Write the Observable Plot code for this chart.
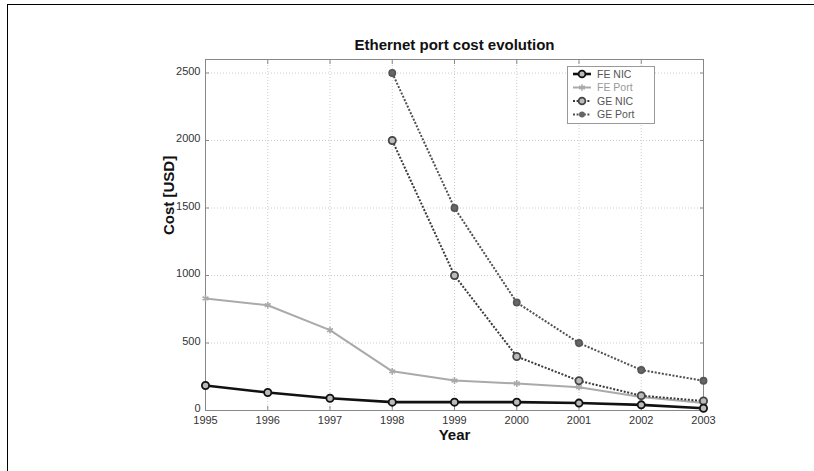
<!DOCTYPE html>
<html><head><meta charset="utf-8">
<script src="https://cdn.jsdelivr.net/npm/d3@7"></script>
<script src="https://cdn.jsdelivr.net/npm/@observablehq/plot@0.6"></script>
<style>
body{margin:0;background:#fff;}
#wrap{position:relative;width:814px;height:471px;overflow:hidden;font-family:"Liberation Sans",Arial,sans-serif;}
#border{position:absolute;left:7px;top:4px;width:900px;height:600px;border-top:1.5px solid #000;border-left:1.5px solid #000;}
#chart{position:absolute;left:0;top:0;}
#legend{position:absolute;left:567px;top:66px;}
</style></head>
<body>
<div id="wrap"><div id="border"></div><div id="chart"></div><div id="legend"></div></div>
<script>
const title = "Ethernet port cost evolution";
const xLabel = "Year";
const yLabel = "Cost [USD]";
const years = [1995, 1996, 1997, 1998, 1999, 2000, 2001, 2002, 2003];
const feNic = [185, 133, 91, 62, 62, 62, 55, 42, 17];
const fePort = [830, 780, 595, 290, 222, 200, 173, 100, 55];
const geYears = [1998, 1999, 2000, 2001, 2002, 2003];
const geNic = [2000, 1000, 400, 220, 110, 70];
const gePort = [2500, 1500, 800, 500, 300, 220];
const yTicks = [0, 500, 1000, 1500, 2000, 2500];
const seriesNames = ["FE NIC", "FE Port", "GE NIC", "GE Port"];

const feNicData = years.map((y, i) => ({year: y, v: feNic[i]}));
const fePortData = years.map((y, i) => ({year: y, v: fePort[i]}));
const geNicData = geYears.map((y, i) => ({year: y, v: geNic[i]}));
const gePortData = geYears.map((y, i) => ({year: y, v: gePort[i]}));

const styles = {
  "FE NIC": {stroke: "#111", width: 2.6, dash: null, marker: "circle-open", mcolor: "#111"},
  "FE Port": {stroke: "#aaa", width: 2, dash: null, marker: "asterisk", mcolor: "#aaa"},
  "GE NIC": {stroke: "#3a3a3a", width: 2, dash: "2,1.6", marker: "circle-open", mcolor: "#444"},
  "GE Port": {stroke: "#505050", width: 2, dash: "2,1.6", marker: "dot", mcolor: "#666"}
};

function seriesMarks(data, name) {
  const s = styles[name];
  const marks = [Plot.line(data, {x: "year", y: "v", stroke: s.stroke, strokeWidth: s.width, strokeDasharray: s.dash, strokeLinecap: "butt"})];
  if (s.marker === "circle-open") marks.push(Plot.dot(data, {x: "year", y: "v", r: 3.6, fill: "#bbb", stroke: s.mcolor, strokeWidth: 1.8}));
  else if (s.marker === "asterisk") marks.push(Plot.dot(data, {x: "year", y: "v", r: 3.2, symbol: "asterisk", stroke: s.mcolor, strokeWidth: 1.6}));
  else marks.push(Plot.dot(data, {x: "year", y: "v", r: 3.2, fill: s.mcolor, stroke: "#555"}));
  return marks;
}

const plot = Plot.plot({
  width: 814, height: 471,
  marginLeft: 205, marginRight: 111, marginTop: 59, marginBottom: 61,
  style: {fontFamily: "Liberation Sans, Arial, sans-serif", fontSize: "11px", color: "#333", background: "transparent"},
  x: {domain: [1995, 2003], ticks: years, tickFormat: d => String(d), label: null},
  y: {domain: [0, 2600], ticks: yTicks, tickFormat: d => String(d), label: null},
  marks: [
    Plot.gridX(years, {stroke: "#ccc", strokeOpacity: 1, strokeDasharray: "1,2"}),
    Plot.gridY(yTicks, {stroke: "#ccc", strokeOpacity: 1, strokeDasharray: "1,2"}),
    Plot.frame({stroke: "#888"}),
    Plot.axisX(years, {anchor: "bottom", tickSize: 0, tickPadding: 6, tickFormat: d => String(d), fill: "#333"}),
    Plot.axisX(years, {anchor: "bottom", tickSize: -4, text: null, stroke: "#888"}),
    Plot.axisX(years, {anchor: "top", tickSize: -4, text: null, stroke: "#888"}),
    Plot.axisY(yTicks, {anchor: "left", tickSize: 0, tickPadding: 5, dy: -2, tickFormat: d => String(d), fill: "#333"}),
    Plot.axisY(yTicks, {anchor: "left", tickSize: -4, text: null, stroke: "#888"}),
    Plot.axisY(yTicks, {anchor: "right", tickSize: -4, text: null, stroke: "#888"}),
    ...seriesMarks(fePortData, "FE Port"),
    ...seriesMarks(gePortData, "GE Port"),
    ...seriesMarks(geNicData, "GE NIC"),
    ...seriesMarks(feNicData, "FE NIC"),
    Plot.text([title], {frameAnchor: "top", dy: -20, fontSize: 15, fontWeight: "bold", fill: "#111"}),
    Plot.text([xLabel], {frameAnchor: "bottom", dy: 29, fontSize: 15, fontWeight: "bold", fill: "#111"}),
    Plot.text([yLabel], {frameAnchor: "left", dx: -36, rotate: -90, fontSize: 15, fontWeight: "bold", fill: "#111"})
  ]
});
document.getElementById("chart").appendChild(plot);

// legend
const lw = 88, lh = 58;
const svg = d3.select("#legend").append("svg").attr("width", lw).attr("height", lh)
  .style("font-family", "Liberation Sans, Arial, sans-serif");
svg.append("rect").attr("x", 0.5).attr("y", 0.5).attr("width", lw - 1).attr("height", lh - 1)
  .attr("fill", "#fff").attr("stroke", "#999");
seriesNames.forEach((name, i) => {
  const s = styles[name];
  const cy = 8 + i * 13.5;
  svg.append("line").attr("x1", 6).attr("x2", 24).attr("y1", cy).attr("y2", cy)
    .attr("stroke", s.stroke).attr("stroke-width", s.width).attr("stroke-dasharray", s.dash);
  if (s.marker === "circle-open") svg.append("circle").attr("cx", 15).attr("cy", cy).attr("r", 3.4).attr("fill", "#bbb").attr("stroke", s.mcolor).attr("stroke-width", 1.8);
  else if (s.marker === "asterisk") svg.append("path").attr("d", d3.symbol(d3.symbolAsterisk, 30)()).attr("transform", `translate(15,${cy})`).attr("stroke", s.mcolor).attr("stroke-width", 1.5);
  else svg.append("circle").attr("cx", 15).attr("cy", cy).attr("r", 3).attr("fill", s.mcolor);
  svg.append("text").attr("x", 30).attr("y", cy).attr("dy", "0.35em").attr("font-size", 10.5)
    .attr("fill", name === "FE Port" ? "#999" : "#555").text(name);
});
</script>
</body></html>
